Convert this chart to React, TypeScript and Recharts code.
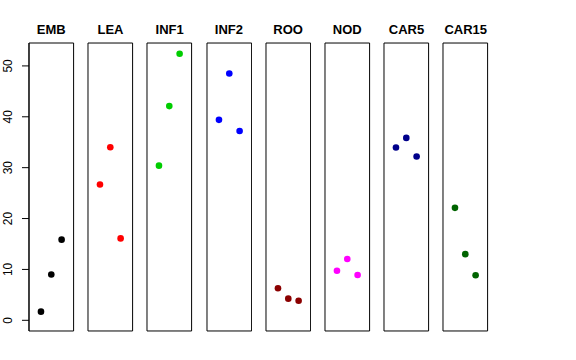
import { ReferenceArea, Scatter, ScatterChart, XAxis, YAxis } from "recharts"

const groups = ["EMB", "LEA", "INF1", "INF2", "ROO", "NOD", "CAR5", "CAR15"]
const colors = ["#000000", "#FF0000", "#00CD00", "#0000FF", "#8B0000", "#FF00FF", "#00008B", "#006400"]
const positions = [1, 2, 3]
const emb = [1.7, 9.0, 15.85]
const lea = [26.7, 34.0, 16.1]
const inf1 = [30.4, 42.1, 52.4]
const inf2 = [39.4, 48.5, 37.2]
const roo = [6.3, 4.25, 3.85]
const nod = [9.75, 12.05, 8.9]
const car5 = [33.95, 35.85, 32.2]
const car15 = [22.1, 13.0, 8.85]
const yTicks = [0, 10, 20, 30, 40, 50]

const series = [emb, lea, inf1, inf2, roo, nod, car5, car15]

const X_DOMAIN: [number, number] = [-0.16, 4.16]
const Y_DOMAIN: [number, number] = [-2.1, 54.5]
const PANEL_LEFT = 29
const PANEL_STEP = 59.2
const PANEL_W = 44.6
const PANEL_TOP = 43
const PANEL_H = 288
const AXIS_W = 29
const FONT = "Arial, 'Liberation Sans', Helvetica, sans-serif"

function YTick(props: any) {
  const { y, payload } = props
  const bx = 12.5
  return (
    <text
      x={bx}
      y={y}
      transform={`rotate(-90, ${bx}, ${y})`}
      textAnchor="middle"
      fontSize={12}
      fontFamily={FONT}
      fill="#000"
    >
      {payload.value}
    </text>
  )
}

function Panel({ index }: { index: number }) {
  const first = index === 0
  const data = positions.map((x, i) => ({ x, y: series[index][i] }))
  const color = colors[index]
  const left = PANEL_LEFT + index * PANEL_STEP
  return (
    <>
      <div
        style={{
          position: "absolute",
          left: left - 20,
          width: PANEL_W + 40,
          top: 23.3,
          textAlign: "center",
          fontFamily: FONT,
          fontWeight: "bold",
          fontSize: 13,
          lineHeight: "13px",
        }}
      >
        {groups[index]}
      </div>
      <div
        style={{
          position: "absolute",
          left: first ? left - AXIS_W : left - 1,
          top: PANEL_TOP - 1,
        }}
      >
        <ScatterChart
          width={first ? PANEL_W + AXIS_W + 1 : PANEL_W + 2}
          height={PANEL_H + 2}
          margin={{ top: 1, right: 1, bottom: 1, left: first ? 0 : 1 }}
        >
          <XAxis type="number" dataKey="x" domain={X_DOMAIN} hide />
          <YAxis
            type="number"
            dataKey="y"
            domain={Y_DOMAIN}
            ticks={yTicks}
            hide={!first}
            width={AXIS_W}
            tickSize={7}
            tick={<YTick />}
            axisLine={{ stroke: "#000" }}
            tickLine={{ stroke: "#000" }}
            allowDataOverflow
          />
          <ReferenceArea
            x1={X_DOMAIN[0]}
            x2={X_DOMAIN[1]}
            y1={Y_DOMAIN[0]}
            y2={Y_DOMAIN[1]}
            fill="none"
            stroke="#000"
            strokeWidth={1}
            ifOverflow="visible"
          />
          <Scatter
            data={data}
            isAnimationActive={false}
            shape={(p: any) => <circle cx={p.cx} cy={p.cy} r={3.3} fill={color} />}
          />
        </ScatterChart>
      </div>
    </>
  )
}

export default function App() {
  return (
    <div
      style={{
        position: "absolute",
        left: 0,
        top: 0,
        width: 576,
        height: 360,
        background: "#fff",
      }}
    >
      {groups.map((g, i) => (
        <Panel key={g} index={i} />
      ))}
    </div>
  )
}
